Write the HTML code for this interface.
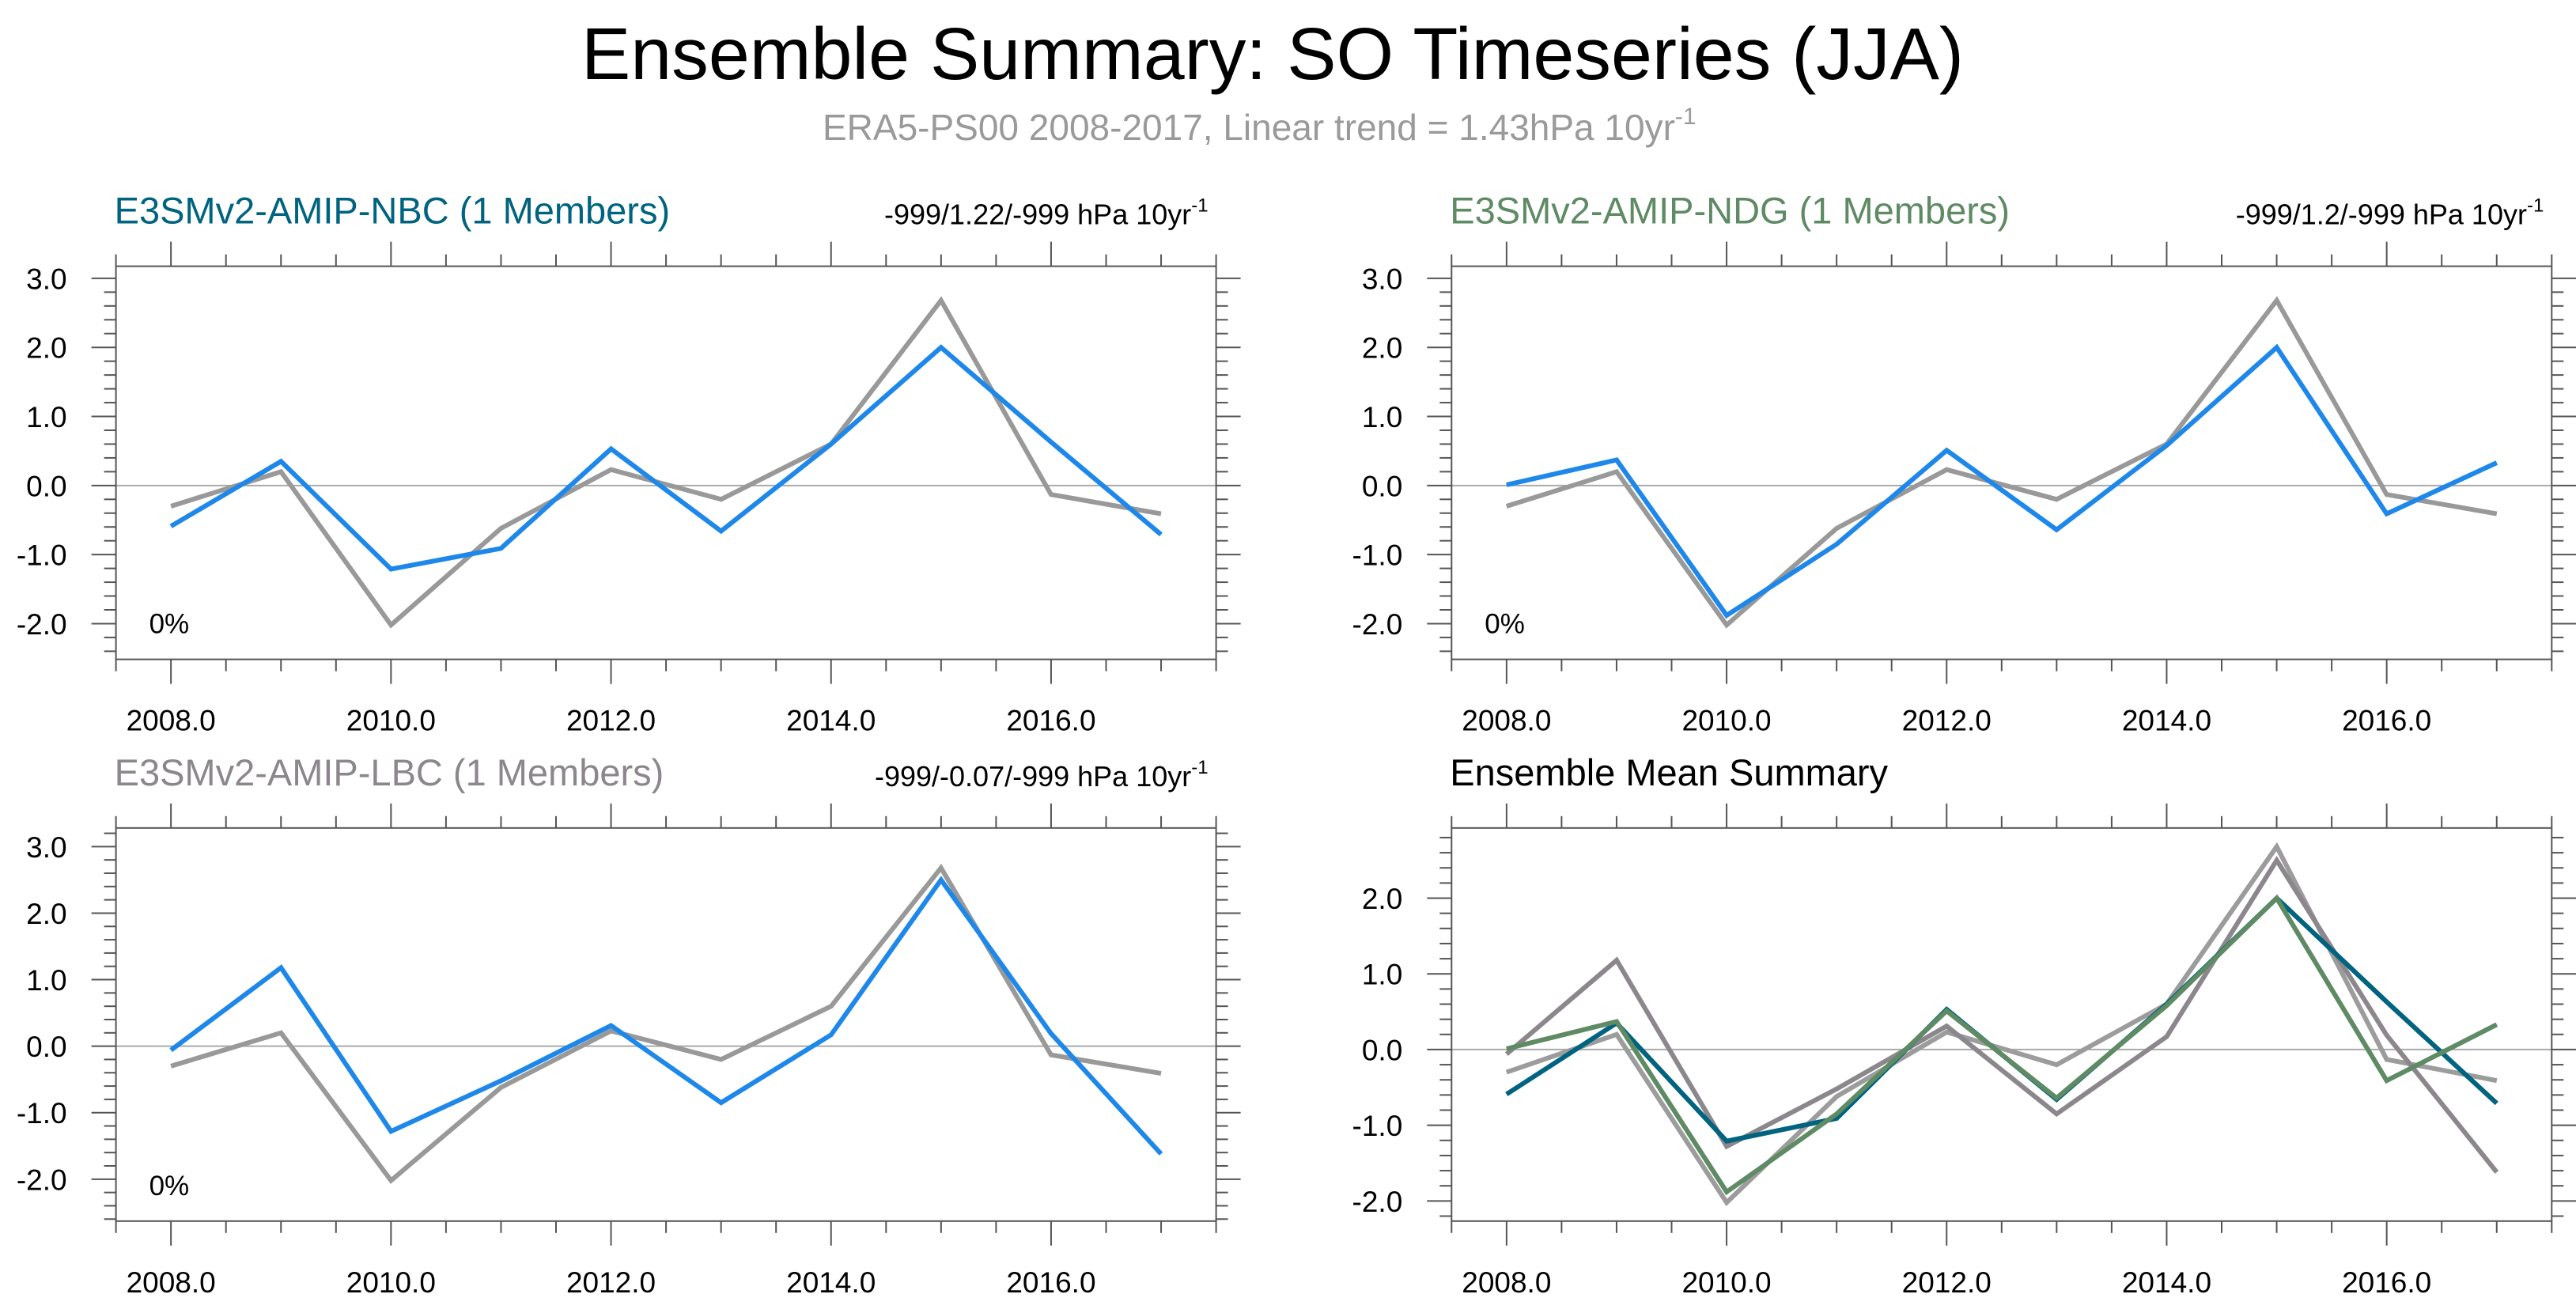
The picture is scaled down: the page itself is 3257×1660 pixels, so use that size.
<!DOCTYPE html>
<html><head><meta charset="utf-8"><style>
html,body{margin:0;padding:0;background:#fff;}
svg{display:block;font-family:"Liberation Sans",sans-serif;}
</style></head><body>
<svg id="chart" width="3257" height="1660" viewBox="0 0 3257 1660" xmlns="http://www.w3.org/2000/svg">
<text x="1609" y="100" font-size="93" text-anchor="middle" textLength="1748" lengthAdjust="spacingAndGlyphs">Ensemble Summary: SO Timeseries (JJA)</text>
<text x="1040" y="177" font-size="46" fill="#9a9a9a">ERA5-PS00 2008-2017, Linear trend = 1.43hPa 10yr<tspan font-size="30" dy="-20">-1</tspan></text>
</svg>
<script>
const years = [2008,2009,2010,2011,2012,2013,2014,2015,2016,2017];
const era5 = [-0.30,0.20,-2.02,-0.62,0.23,-0.20,0.60,2.68,-0.13,-0.41];
const nbc = [-0.59,0.35,-1.21,-0.91,0.53,-0.66,0.60,2.00,0.63,-0.71];
const ndg = [0.01,0.37,-1.88,-0.85,0.51,-0.64,0.58,2.00,-0.41,0.33];
const lbc = [-0.06,1.18,-1.28,-0.52,0.31,-0.85,0.17,2.50,0.19,-1.62];
const xTickLabels = ["2008.0","2010.0","2012.0","2014.0","2016.0"];
const yTickLabels = ["-2.0","-1.0","0.0","1.0","2.0","3.0"];

const NS = "http://www.w3.org/2000/svg";
const svg = document.getElementById("chart");
const W = 1391, H = 497;
function mk(tag, attrs, parent){const e=document.createElementNS(NS,tag);for(const k in attrs)e.setAttribute(k,attrs[k]);(parent||svg).appendChild(e);return e;}

const panels = [
 {id:"nbc", x:146.6, y:336.6, ymin:-2.517, ymax:3.175, title:"E3SMv2-AMIP-NBC (1 Members)", tcol:"#00637f", trend:"-999/1.22/-999 hPa 10yr", pct:true,
  series:[{name:"era5",d:era5,c:"#999999"},{name:"nbc",d:nbc,c:"#1e88ea"}]},
 {id:"ndg", x:1835.3, y:336.6, ymin:-2.517, ymax:3.175, title:"E3SMv2-AMIP-NDG (1 Members)", tcol:"#5e8a64", trend:"-999/1.2/-999 hPa 10yr", pct:true,
  series:[{name:"era5",d:era5,c:"#999999"},{name:"ndg",d:ndg,c:"#1e88ea"}]},
 {id:"lbc", x:146.6, y:1046.8, ymin:-2.63, ymax:3.28, title:"E3SMv2-AMIP-LBC (1 Members)", tcol:"#8c878c", trend:"-999/-0.07/-999 hPa 10yr", pct:true,
  series:[{name:"era5",d:era5,c:"#999999"},{name:"lbc",d:lbc,c:"#1e88ea"}]},
 {id:"mean", x:1835.3, y:1046.8, ymin:-2.266, ymax:2.927, title:"Ensemble Mean Summary", tcol:"#000", trend:null, pct:false,
  series:[{name:"era5",d:era5,c:"#9c9c9c"},{name:"lbc",d:lbc,c:"#8c878c"},{name:"nbc",d:nbc,c:"#00637f"},{name:"ndg",d:ndg,c:"#5e8a64"}]}
];

panels.forEach(p=>{
  const g = mk("g",{});
  
  
  const xs = v => p.x + (v-2007.5)/10*W;
  const ys = v => p.y + (p.ymax-v)/(p.ymax-p.ymin)*H;
  const t = mk("text",{x:p.x-2,y:p.y-54,"font-size":47,fill:p.tcol},g);
  
  
  t.textContent = p.title;
  if(p.trend){
    const tr = mk("text",{x:p.x+W-10,y:p.y-53,"font-size":36,"text-anchor":"end"},g);
    
    
    tr.textContent = p.trend;
    const sp = mk("tspan",{"font-size":24,dy:-16},tr); sp.textContent="-1";
  }
  const z = mk("line",{x1:p.x,x2:p.x+W,y1:ys(0),y2:ys(0),stroke:"#aaaaaa","stroke-width":2},g);
  
  
  for(let v=2007.5; v<=2017.51; v+=0.5){
    const major = Math.abs(v%2)<1e-6;
    const L = major?31:15;
    mk("line",{x1:xs(v),x2:xs(v),y1:p.y,y2:p.y-L,stroke:"#555","stroke-width":2},g);
    mk("line",{x1:xs(v),x2:xs(v),y1:p.y+H,y2:p.y+H+L,stroke:"#555","stroke-width":2},g);
  }
  xTickLabels.forEach(s=>{
    const l = mk("text",{x:xs(parseFloat(s)),y:p.y+H+90,"font-size":37,"text-anchor":"middle"},g);
    
    
    l.textContent = s;
  });
  for(let k=Math.ceil(p.ymin*5); k<=Math.floor(p.ymax*5); k++){
    const v=k/5, major = k%5===0, L = major?31:15;
    mk("line",{x1:p.x,x2:p.x-L,y1:ys(v),y2:ys(v),stroke:"#555","stroke-width":2},g);
    mk("line",{x1:p.x+W,x2:p.x+W+L,y1:ys(v),y2:ys(v),stroke:"#555","stroke-width":2},g);
  }
  yTickLabels.forEach(s=>{
    const v=parseFloat(s); if(v<p.ymin||v>p.ymax) return;
    const l = mk("text",{x:p.x-62,y:ys(v)+13.5,"font-size":37,"text-anchor":"end"},g);
    
    
    l.textContent = s;
  });
  p.series.forEach(s=>{
    const pts = years.map((yr,i)=>xs(yr).toFixed(1)+","+ys(s.d[i]).toFixed(1)).join(" ");
    const pl = mk("polyline",{points:pts,fill:"none",stroke:s.c,"stroke-width":6,"stroke-linejoin":"miter"},g);
    
    
  });
  if(p.pct){
    const pc = mk("text",{x:p.x+42,y:p.y+464,"font-size":35},g);
    
    
    pc.textContent="0%";
  }
  const fr = mk("rect",{x:p.x,y:p.y,width:W,height:H,fill:"none",stroke:"#555","stroke-width":2},g);
  
  
});
</script>
</body></html>
